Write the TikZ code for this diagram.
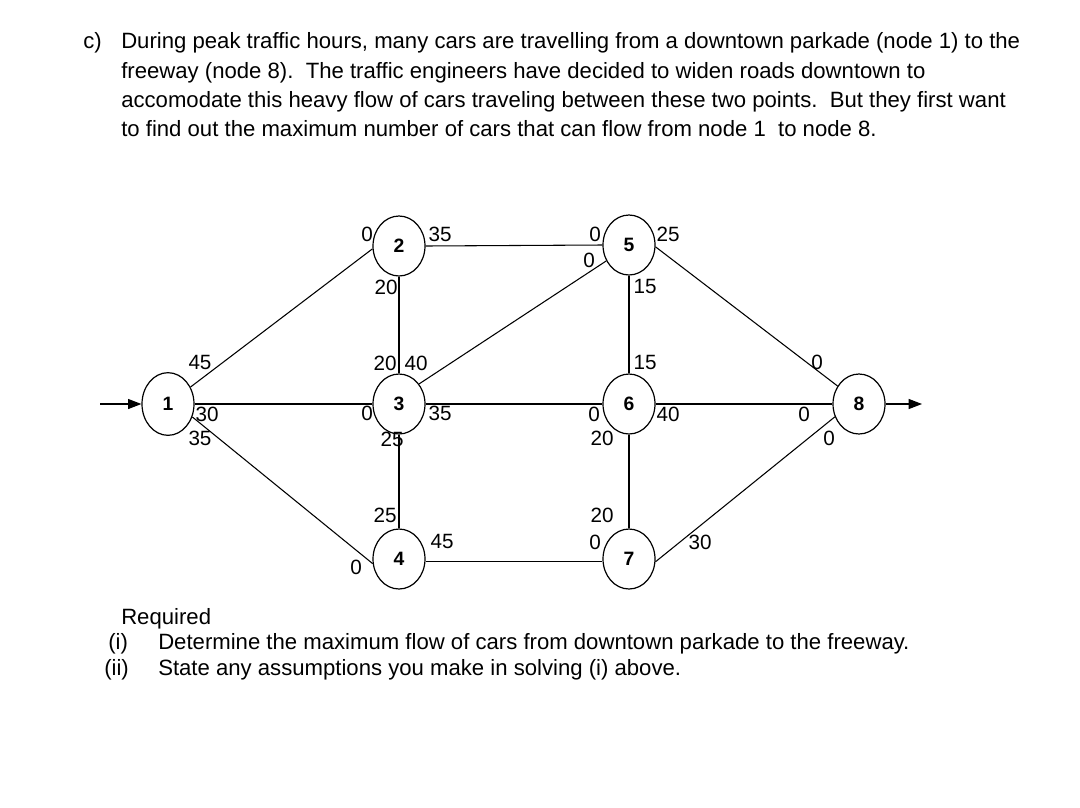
\documentclass[tikz,border=0pt]{standalone}
\usepackage{fontspec}
\setmainfont{Liberation Sans}
\usetikzlibrary{shapes.geometric,arrows.meta}
\begin{document}
\begin{tikzpicture}[x=0.75pt,y=-0.75pt,
  vtx/.style={ellipse,draw,line width=0.9pt,minimum width=39pt,minimum height=45pt,inner sep=0pt,font=\fontsize{14.5}{14.5}\selectfont\bfseries},
  edge/.style={line width=0.8pt},
  lab/.style={inner sep=0pt,font=\fontsize{15.5}{16}\selectfont},
  txt/.style={anchor=base west,inner sep=0pt,font=\fontsize{16.6}{19}\selectfont},
  flow/.style={line width=0.8pt,-{Triangle[length=10pt,width=7.5pt]}}]
\useasboundingbox (0,0) rectangle (1080,807);
% problem text
\node[txt] (c) at (83,48) {c)};
\node[txt] (l1) at (121,48) {During peak traffic hours, many cars are travelling from a downtown parkade (node 1) to the};
\node[txt] (l2) at (121,78) {freeway (node 8).\ \ The traffic engineers have decided to widen roads downtown to};
\node[txt] (l3) at (121,107) {accomodate this heavy flow of cars traveling between these two points.\ \ But they first want};
\node[txt] (l4) at (121,136) {to find out the maximum number of cars that can flow from node 1\ \ to node 8.};
% vertices
\node[vtx,minimum height=47pt] (n1) at (168,404) {1};
\node[vtx] (n2) at (399,246) {2};
\node[vtx] (n3) at (399,404) {3};
\node[vtx] (n4) at (399,559) {4};
\node[vtx] (n5) at (629,245) {5};
\node[vtx] (n6) at (629,404) {6};
\node[vtx] (n7) at (629,559) {7};
\node[vtx] (n8) at (859,404) {8};
\coordinate (src) at (100,404);
\coordinate (snk) at (922,404);
% edges
\draw[flow] (src) -- (n1.west);
\draw[flow] (n8.east) -- (snk);
\draw[edge] (n1.37) -- (n2.186);
\draw[edge] (n1.east) -- (n3.west);
\draw[edge] (n1.-28) -- (n4.190);
\draw[edge] (n2.east) -- (n5.west);
\draw[edge] (n2.south) -- (n3.north);
\draw[edge] (n3.45) -- (n5.215);
\draw[edge] (n3.east) -- (n6.west);
\draw[edge] (n3.south) -- (n4.north);
\draw[edge] (n4.-5) -- (n7.185);
\draw[edge] (n5.south) -- (n6.north);
\draw[edge] (n5.-4) -- (n8.140);
\draw[edge] (n6.east) -- (n8.west);
\draw[edge] (n6.south) -- (n7.north);
\draw[edge] (n7.-6) -- (n8.208);
% labels
\node[lab] (a12) at (200,362) {45};
\node[lab] (a13) at (207,414) {30};
\node[lab] (a14) at (200,438) {35};
\node[lab] (b21) at (367,234) {0};
\node[lab] (b25) at (440,234) {35};
\node[lab] (b23) at (386,287) {20};
\node[lab] (e52) at (595,234) {0};
\node[lab] (e53) at (589,260) {0};
\node[lab] (e58) at (668,234) {25};
\node[lab] (e56) at (645,286) {15};
\node[lab] (c32) at (385,363) {20};
\node[lab] (c35) at (416,363) {40};
\node[lab] (c31) at (367,413) {0};
\node[lab] (c36) at (440,413) {35};
\node[lab] (c34) at (392,439) {25};
\node[lab] (f65) at (645,362) {15};
\node[lab] (f63) at (594,414) {0};
\node[lab] (f68) at (668,414) {40};
\node[lab] (f67) at (602,438) {20};
\node[lab] (h85) at (817,362) {0};
\node[lab] (h86) at (804,414) {0};
\node[lab] (h87) at (829,438) {0};
\node[lab] (d43) at (385,515) {25};
\node[lab] (d47) at (442,541) {45};
\node[lab] (d41) at (356,567) {0};
\node[lab] (g76) at (602,515) {20};
\node[lab] (g74) at (595,542) {0};
\node[lab] (g78) at (700,542) {30};
% requirements
\node[txt] (req) at (121,624) {Required};
\node[txt] (r1) at (108,649) {(i)};
\node[txt] (r1t) at (158,649) {Determine the maximum flow of cars from downtown parkade to the freeway.};
\node[txt] (r2) at (104,675) {(ii)};
\node[txt] (r2t) at (158,675) {State any assumptions you make in solving (i) above.};
\end{tikzpicture}
\end{document}
